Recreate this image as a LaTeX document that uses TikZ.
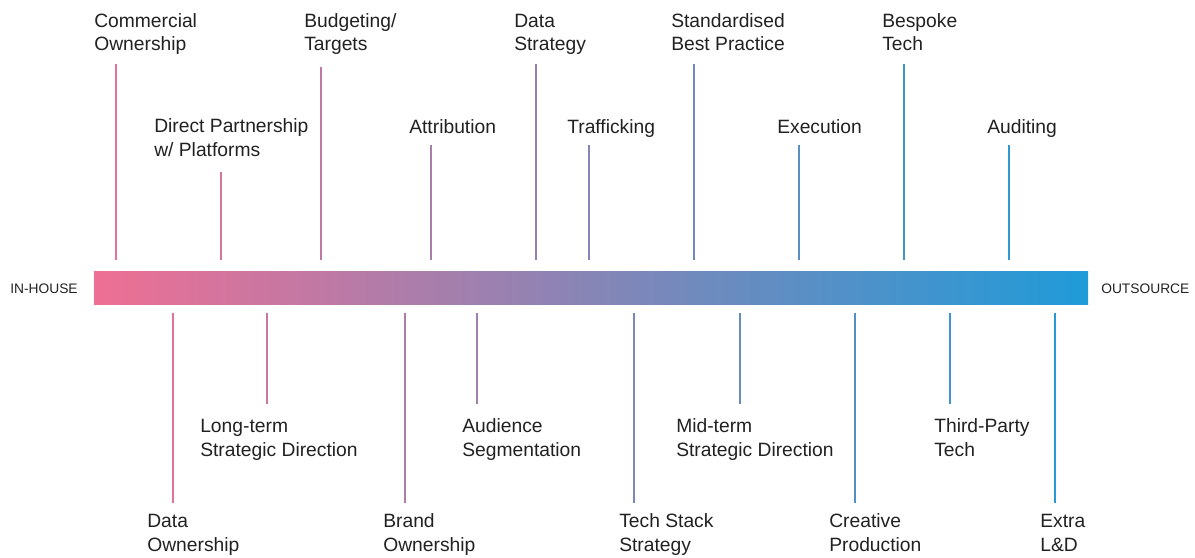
\documentclass[tikz,border=0pt]{standalone}
\usepackage{fontspec}
\setmainfont{Liberation Sans}
\usepackage{tikz}
\definecolor{inPink}{RGB}{238,111,148}
\definecolor{outBlue}{RGB}{31,155,216}
\definecolor{labelColor}{RGB}{33,33,33}
\tikzstyle{chart} = [x = 0.025cm, y = -0.025cm]
\tikzstyle{labelText} = [anchor=base west, align=left, inner sep=0, text=labelColor, font=\fontsize{13.7}{16.7}\selectfont]
\tikzstyle{endText} = [anchor=base west, inner sep=0, text=labelColor, font=\fontsize{9.8}{12}\selectfont]
\tikzstyle{markerLine} = [line width=1.4pt]
\newcommand{\barStart}{94}
\newcommand{\barEnd}{1088}
% #1 name, #2 line x, #3 line top, #4 line bottom, #5 text x, #6 baseline of last text line, #7 text
\newcommand{\marker}[7]{
  \pgfmathsetmacro{\shadeAmount}{(#2 - \barStart) / (\barEnd - \barStart) * 100}
  \node [labelText] (#1) at (#5, #6) {#7};
  \coordinate (#1From) at (#2, #3);
  \coordinate (#1To) at (#2, #4);
  \draw [markerLine, color=outBlue!\shadeAmount!inPink] (#1From) -- (#1To);
}
\newcommand{\topMarker}[5]{\marker{#1}{#2}{#3}{260}{#4}{#5}}
\newcommand{\bottomMarker}[5]{\marker{#1}{#2}{313}{#3}{#4}{#5}}

\begin{document}
\begin{tikzpicture}[chart]
  \useasboundingbox (0,0) rectangle (1195,558);
  \shade [left color=inPink, right color=outBlue] (\barStart,271) rectangle (\barEnd,304);
  \node [endText] (inHouse) at (10,293) {IN-HOUSE};
  \node [endText] (outsource) at (1101,293) {OUTSOURCE};

  % above the bar
  \topMarker{commercial}{116}{64}{94}{51}{Commercial\\Ownership}
  \topMarker{partnership}{221}{172}{154}{156}{Direct Partnership\\w/ Platforms}
  \topMarker{budgeting}{321}{67}{304}{51}{Budgeting/\\Targets}
  \topMarker{attribution}{431}{145}{409}{133}{Attribution}
  \topMarker{dataStrategy}{536}{64}{514}{51}{Data\\Strategy}
  \topMarker{trafficking}{589}{145}{567}{133}{Trafficking}
  \topMarker{bestPractice}{694}{64}{671}{51}{Standardised\\Best Practice}
  \topMarker{execution}{799}{145}{777}{133}{Execution}
  \topMarker{bespoke}{904}{64}{882}{51}{Bespoke\\Tech}
  \topMarker{auditing}{1009}{145}{987}{133}{Auditing}

  % below the bar
  \bottomMarker{dataOwnership}{173}{503}{147}{551}{Data\\Ownership}
  \bottomMarker{longTerm}{267}{404}{200}{456}{Long-term\\Strategic Direction}
  \bottomMarker{brand}{405}{503}{383}{551}{Brand\\Ownership}
  \bottomMarker{audience}{477}{404}{462}{456}{Audience\\Segmentation}
  \bottomMarker{techStack}{634}{503}{619}{551}{Tech Stack\\Strategy}
  \bottomMarker{midTerm}{740}{404}{676}{456}{Mid-term\\Strategic Direction}
  \bottomMarker{creative}{855}{503}{829}{551}{Creative\\Production}
  \bottomMarker{thirdParty}{950}{404}{934}{456}{Third-Party\\Tech}
  \bottomMarker{extra}{1055}{503}{1040}{551}{Extra\\L\&D}
\end{tikzpicture}
\end{document}
